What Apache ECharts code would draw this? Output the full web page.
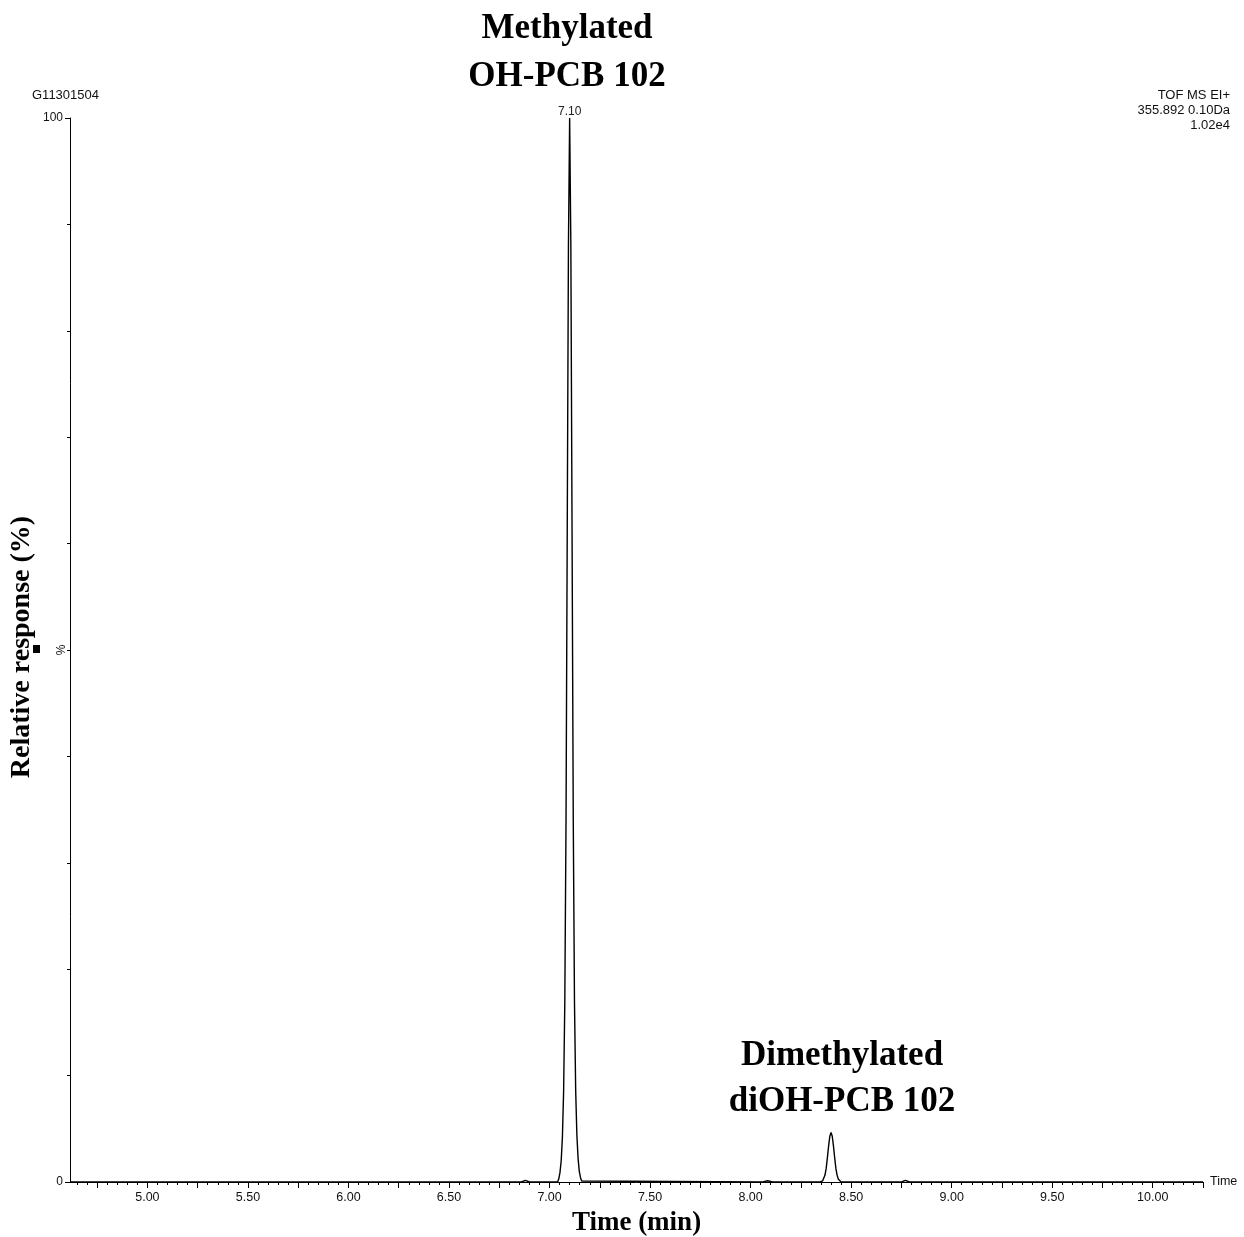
<!DOCTYPE html>
<html>
<head>
<meta charset="utf-8">
<script src="https://cdn.jsdelivr.net/npm/echarts@6/dist/echarts.min.js"></script>
<style>
  html, body { margin: 0; padding: 0; background: #fff; }
  #chart { width: 1244px; height: 1237px; }
</style>
</head>
<body>
<div id="chart"></div>
<script>
// Extracted-ion chromatogram, m/z 355.892 (0.10 Da window), TOF MS EI+
const sampleId = 'G11301504';
const headerLines = ['TOF MS EI+', '355.892 0.10Da', '1.02e4'];

// Retention time (min) and relative response (%)
const times = [
  4.615,
  6.860, 6.880, 6.900,
  7.040, 7.046, 7.052, 7.058, 7.064, 7.070, 7.076, 7.082, 7.088, 7.094,
  7.100,
  7.106, 7.112, 7.118, 7.124, 7.130, 7.136, 7.142, 7.148, 7.154, 7.160, 7.166,
  8.060, 8.085, 8.110,
  8.346, 8.352, 8.358, 8.364, 8.370, 8.376, 8.382, 8.388, 8.394,
  8.400,
  8.406, 8.412, 8.418, 8.424, 8.430, 8.436, 8.442, 8.450,
  8.750, 8.770, 8.790,
  10.250
];
const response = [
  0,
  0, 0.15, 0,
  0, 0.3, 0.9, 2.0, 4.2, 8.5, 17, 34, 61, 88,
  100,
  88, 61, 34, 17, 8.6, 4.4, 2.2, 1.0, 0.4, 0.1, 0,
  0, 0.12, 0,
  0, 0.05, 0.1, 0.28, 0.65, 1.3, 2.3, 3.4, 4.3,
  4.65,
  4.3, 3.4, 2.3, 1.3, 0.65, 0.28, 0.1, 0,
  0, 0.15, 0,
  0
];

// Axis ticks
const xLabelValues = [5.0, 5.5, 6.0, 6.5, 7.0, 7.5, 8.0, 8.5, 9.0, 9.5, 10.0];
const xMajorTicks = [4.75, 5.0, 5.25, 5.5, 5.75, 6.0, 6.25, 6.5, 6.75, 7.0, 7.25, 7.5,
  7.75, 8.0, 8.25, 8.5, 8.75, 9.0, 9.25, 9.5, 9.75, 10.0, 10.25];
const xMinorStep = 0.05;
const yLabelValues = [0, 100];

// Peak annotations: [retention time, line 1, line 2]
const peakNotes = [
  [7.10, 'Methylated', 'OH-PCB 102'],
  [8.40, 'Dimethylated', 'diOH-PCB 102']
];

const X_MIN = 4.615, X_MAX = 10.25;

const xMinorTicks = [];
for (let v = 4.65; v < X_MAX - 1e-9; v += xMinorStep) {
  xMinorTicks.push(Math.round(v * 100) / 100);
}

const apexIndex = response.indexOf(Math.max(...response));
const points = times.map((t, i) => [t, response[i]]);

const chart = echarts.init(document.getElementById('chart'), null, { renderer: 'canvas' });

const GRID = { left: 70, right: 41, top: 118, bottom: 55 };
const plotW = 1244 - GRID.left - GRID.right;
const xToPx = v => GRID.left + (v - X_MIN) / (X_MAX - X_MIN) * plotW;

const sans = 'Liberation Sans';

const graphics = [
  {
    type: 'text', left: 32, top: 89,
    style: { text: sampleId, font: '13px "Liberation Sans"', fill: '#111' }
  },
  {
    type: 'text', right: 14, top: 88,
    style: { text: headerLines.join('\n'), font: '13px "Liberation Sans"', fill: '#111',
      textAlign: 'right', lineHeight: 15 }
  },
  {
    type: 'text', x: 22, y: 647, rotation: Math.PI / 2,
    style: { text: 'Relative response (%)', font: 'bold 28px "Liberation Serif"', fill: '#000',
      textAlign: 'center', textVerticalAlign: 'middle' }
  },
  {
    type: 'text', x: 62, y: 650, rotation: Math.PI / 2,
    style: { text: '%', font: '12px "Liberation Sans"', fill: '#111',
      textAlign: 'center', textVerticalAlign: 'middle' }
  },
  {
    type: 'rect', shape: { x: 33, y: 645, width: 7, height: 8 }, style: { fill: '#000' }
  },
  {
    type: 'text', x: xToPx((X_MIN + X_MAX) / 2), y: 1223,
    style: { text: 'Time (min)', font: 'bold 27px "Liberation Serif"', fill: '#000',
      textAlign: 'center', textVerticalAlign: 'middle' }
  }
];

const noteY = [[29, 77], [1056, 1102]];
peakNotes.forEach((n, i) => {
  const cx = i === 0 ? 567 : 842;
  graphics.push({
    type: 'text', x: cx, y: noteY[i][0],
    style: { text: n[1], font: 'bold 35px "Liberation Serif"', fill: '#000',
      textAlign: 'center', textVerticalAlign: 'middle' }
  });
  graphics.push({
    type: 'text', x: cx, y: noteY[i][1],
    style: { text: n[2], font: 'bold 35px "Liberation Serif"', fill: '#000',
      textAlign: 'center', textVerticalAlign: 'middle' }
  });
});

chart.setOption({
  animation: false,
  backgroundColor: '#fff',
  grid: GRID,
  xAxis: [
    {
      type: 'value', min: X_MIN, max: X_MAX,
      name: 'Time', nameLocation: 'end', nameGap: 7,
      nameTextStyle: { fontFamily: sans, fontSize: 12.5, color: '#111', verticalAlign: 'middle' },
      axisLine: { show: true, lineStyle: { color: '#000', width: 1 } },
      axisTick: { show: true, customValues: xMajorTicks, length: 6, lineStyle: { color: '#000' } },
      axisLabel: { show: true, customValues: xLabelValues, margin: 9,
        formatter: v => Number(v).toFixed(2),
        fontFamily: sans, fontSize: 12.5, color: '#111' },
      splitLine: { show: false }
    },
    {
      type: 'value', min: X_MIN, max: X_MAX, position: 'bottom',
      axisLine: { show: false },
      axisTick: { show: true, customValues: xMinorTicks, length: 3, lineStyle: { color: '#000' } },
      axisLabel: { show: false },
      splitLine: { show: false }
    }
  ],
  yAxis: [
    {
      type: 'value', min: 0, max: 100, interval: 10,
      axisLine: { show: true, lineStyle: { color: '#000', width: 1 } },
      axisTick: { show: true, length: 3, lineStyle: { color: '#000' } },
      axisLabel: { show: true, customValues: yLabelValues, margin: 7,
        fontFamily: sans, fontSize: 12, color: '#111' },
      splitLine: { show: false }
    },
    {
      type: 'value', min: 0, max: 100, position: 'left',
      axisLine: { show: false },
      axisTick: { show: true, customValues: yLabelValues, length: 5, lineStyle: { color: '#000' } },
      axisLabel: { show: false },
      splitLine: { show: false }
    }
  ],
  series: [{
    type: 'line',
    xAxisIndex: 0, yAxisIndex: 0,
    data: points,
    showSymbol: false,
    symbol: 'none',
    lineStyle: { color: '#000', width: 1.4 },
    clip: false,
    markPoint: {
      symbol: 'circle', symbolSize: 0, silent: true,
      data: [{ coord: points[apexIndex], value: times[apexIndex] }],
      label: {
        show: true, position: 'top', distance: 0,
        formatter: p => p.data.coord[0].toFixed(2),
        fontFamily: sans, fontSize: 12, color: '#222'
      }
    }
  }],
  graphic: graphics
});
</script>
</body>
</html>
